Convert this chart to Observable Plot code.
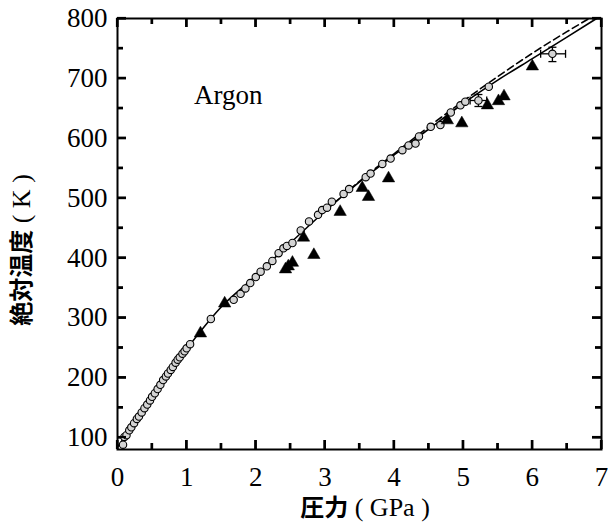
<!DOCTYPE html>
<html>
<head>
<meta charset="utf-8">
<script src="https://cdn.jsdelivr.net/npm/d3@7"></script>
<script src="https://cdn.jsdelivr.net/npm/@observablehq/plot@0.6"></script>
<style>
  html, body { margin: 0; padding: 0; background: #fff; }
</style>
</head>
<body>
<div id="chart"></div>
<script>
// ---- Data ----
// Fitted melting curve (solid)
const solidP = [0, 0.2, 0.4, 0.6, 0.8, 1.0, 1.5, 2.0, 2.5, 3.0, 3.5, 4.0, 4.5, 5.0, 5.5, 6.0, 6.5, 7.0];
const solidT = [84, 117, 150, 185, 218, 248, 318, 370, 425, 478, 527, 572, 615, 658, 697, 733, 769, 805];
// Alternative fit (dashed)
const dashP = [3.0, 3.5, 4.0, 4.5, 5.0, 5.5, 6.0, 6.5, 7.0];
const dashT = [478, 528, 574, 619, 662, 703, 742, 778, 812];
// Open circles (measurements)
const circP = [0.08, 0.10, 0.13, 0.17, 0.20, 0.24, 0.28, 0.31, 0.35, 0.39, 0.43, 0.47, 0.50, 0.54, 0.58, 0.62, 0.66, 0.70, 0.73, 0.77, 0.80, 0.84, 0.87, 0.90, 0.94, 0.97, 1.00, 1.05,
  1.35, 1.68, 1.78, 1.85, 1.92, 2.00, 2.07, 2.16, 2.24, 2.33, 2.40, 2.45, 2.53, 2.65, 2.77, 2.90, 2.96, 3.03, 3.10, 3.27, 3.35, 3.59, 3.66, 3.83, 3.95, 4.12, 4.21, 4.31, 4.36, 4.53, 4.67, 4.82, 4.96, 5.03, 5.22, 5.37, 6.29];
const circT = [88, 101, 104, 112, 117, 124, 131, 135, 142, 149, 155, 162, 168, 174, 181, 188, 196, 202, 207, 213, 218, 225, 230, 234, 240, 244, 249, 256,
  298, 330, 340, 349, 358, 368, 377, 386, 395, 408, 416, 420, 425, 446, 461, 472, 480, 484, 494, 507, 515, 535, 541, 557, 566, 580, 588, 591, 603, 619, 622, 643, 655, 661, 663, 686, 741];
// Filled triangles (other measurements)
const triP = [1.20, 1.55, 2.43, 2.47, 2.53, 2.69, 2.84, 3.22, 3.54, 3.63, 3.92, 4.77, 4.98, 5.35, 5.51, 5.59, 6.00];
const triT = [274, 324, 381, 386, 392, 434, 405, 477, 517, 502, 533, 630, 625, 655, 662, 670, 720];
// Error bars
const errP = [5.22, 6.29];
const errT = [663, 741];
const errPlo = [5.10, 6.12];
const errPhi = [5.34, 6.48];
const errTlo = [653, 728];
const errThi = [673, 752];
// Ticks
const xMajor = [0, 1, 2, 3, 4, 5, 6, 7];
const xMinor = [0.5, 1.5, 2.5, 3.5, 4.5, 5.5, 6.5];
const yMajor = [100, 200, 300, 400, 500, 600, 700, 800];
const yMinor = [150, 250, 350, 450, 550, 650, 750];
const seriesLabel = "Argon";
const xTitleCJK = "圧力";
const xTitleUnit = " ( GPa )";
const yTitleCJK = "絶対温度";
const yTitleUnit = " ( K )";

// ---- Tables built from arrays ----
const solid = solidP.map((p, i) => ({P: p, T: solidT[i]}));
const dashed = dashP.map((p, i) => ({P: p, T: dashT[i]}));
const circles = circP.map((p, i) => ({P: p, T: circT[i]}));
const tris = triP.map((p, i) => ({P: p, T: triT[i]}));
const errs = errP.map((p, i) => ({P: p, T: errT[i], Plo: errPlo[i], Phi: errPhi[i], Tlo: errTlo[i], Thi: errThi[i]}));

// custom line-segment symbols for error-bar caps
const seg = (dx1, dy1, dx2, dy2) => ({draw(ctx) { ctx.moveTo(dx1, dy1); ctx.lineTo(dx2, dy2); }});
const vCap = seg(0, -4, 0, 4);
const hCap = seg(-4, 0, 4, 0);

const serifFont = "'Liberation Serif', 'Times New Roman', serif";
const tickFs = 27;
const MARG = {left: 117, right: 7, top: 18, bottom: 75};
const WIDTH = 608, HEIGHT = 524;
const innerHt = HEIGHT - MARG.top - MARG.bottom;
const innerWd = WIDTH - MARG.left - MARG.right;

const chartSvg = Plot.plot({
  width: WIDTH,
  height: HEIGHT,
  marginLeft: MARG.left,
  marginRight: MARG.right,
  marginTop: MARG.top,
  marginBottom: MARG.bottom,
  style: {fontFamily: serifFont},
  x: {domain: [0, 7], axis: null},
  y: {domain: [80, 800], axis: null},
  marks: [
    Plot.frame({stroke: "black", strokeWidth: 2}),
    // inward ticks (rules shortened with insets)
    Plot.ruleX(xMajor, {x: d => d, insetTop: innerHt - 9, stroke: "black", strokeWidth: 2.2}),
    Plot.ruleX(xMinor, {x: d => d, insetTop: innerHt - 6, stroke: "black", strokeWidth: 2.2}),
    Plot.ruleX(xMajor, {x: d => d, insetBottom: innerHt - 9, stroke: "black", strokeWidth: 2.2}),
    Plot.ruleX(xMinor, {x: d => d, insetBottom: innerHt - 6, stroke: "black", strokeWidth: 2.2}),
    Plot.ruleY(yMajor, {y: d => d, insetRight: innerWd - 9, stroke: "black", strokeWidth: 2.2}),
    Plot.ruleY(yMinor, {y: d => d, insetRight: innerWd - 6, stroke: "black", strokeWidth: 2.2}),
    Plot.ruleY(yMajor, {y: d => d, insetLeft: innerWd - 9, stroke: "black", strokeWidth: 2.2}),
    Plot.ruleY(yMinor, {y: d => d, insetLeft: innerWd - 6, stroke: "black", strokeWidth: 2.2}),
    // lines
    Plot.line(solid, {x: "P", y: "T", stroke: "black", strokeWidth: 1.6, curve: "monotone-x", clip: true}),
    Plot.line(dashed, {x: "P", y: "T", stroke: "black", strokeWidth: 1.6, strokeDasharray: "7,4", curve: "monotone-x", clip: true}),
    // error bars
    Plot.link(errs, {x1: "Plo", x2: "Phi", y1: "T", y2: "T", stroke: "black", strokeWidth: 1.3}),
    Plot.link(errs, {x1: "P", x2: "P", y1: "Tlo", y2: "Thi", stroke: "black", strokeWidth: 1.3}),
    Plot.dot(errs, {x: "Plo", y: "T", symbol: vCap, stroke: "black", strokeWidth: 1.3, fill: "none"}),
    Plot.dot(errs, {x: "Phi", y: "T", symbol: vCap, stroke: "black", strokeWidth: 1.3, fill: "none"}),
    Plot.dot(errs, {x: "P", y: "Tlo", symbol: hCap, stroke: "black", strokeWidth: 1.3, fill: "none"}),
    Plot.dot(errs, {x: "P", y: "Thi", symbol: hCap, stroke: "black", strokeWidth: 1.3, fill: "none"}),
    // markers
    Plot.dot(circles, {x: "P", y: "T", r: 3.7, stroke: "black", strokeWidth: 1.1, fill: "#d4d4d4"}),
    Plot.dot(tris, {x: "P", y: "T", symbol: "triangle", r: 4.6, fill: "black", stroke: "black", strokeWidth: 0.5}),
    // tick labels
    Plot.axisX(xMajor, {anchor: "bottom", tickSize: 0, tickPadding: 17, fontSize: tickFs, fill: "black", label: null, tickFormat: d => String(d)}),
    Plot.axisY(yMajor, {anchor: "left", tickSize: 0, tickPadding: 10, fontSize: tickFs, fill: "black", label: null, tickFormat: d => String(d)}),
    // series label
    Plot.text([seriesLabel], {x: 1.6, y: 672, text: d => d, fontSize: 27, fontFamily: serifFont, fill: "black"})
  ]
});

document.getElementById("chart").appendChild(chartSvg);
const svgSel = d3.select(chartSvg);

// backup: same inward ticks placed through Plot's own scales
try {
  const sx = chartSvg.scale("x"), sy = chartSvg.scale("y");
  const mapX = typeof sx.apply === "function" ? (v => sx.apply(v)) : d3.scaleLinear().domain(sx.domain).range(sx.range);
  const mapY = typeof sy.apply === "function" ? (v => sy.apply(v)) : d3.scaleLinear().domain(sy.domain).range(sy.range);
  const edgeL = MARG.left, edgeR = WIDTH - MARG.right, edgeT = MARG.top, edgeB = HEIGHT - MARG.bottom;
  const tg = svgSel.append("g");
  const addLine = (x1, y1, x2, y2) => tg.append("line")
    .attr("x1", x1).attr("y1", y1).attr("x2", x2).attr("y2", y2)
    .style("stroke", "#000").style("stroke-width", "2.2px");
  for (const [vals, len] of [[xMajor, 9], [xMinor, 6]]) {
    for (const v of vals) {
      const px = mapX(v);
      addLine(px, edgeB, px, edgeB - len);
      addLine(px, edgeT, px, edgeT + len);
    }
  }
  for (const [vals, len] of [[yMajor, 9], [yMinor, 6]]) {
    for (const v of vals) {
      const py = mapY(v);
      addLine(edgeL, py, edgeL + len, py);
      addLine(edgeR, py, edgeR - len, py);
    }
  }
} catch (e) { console.error(e); }

// axis titles (mixed CJK + serif)
const cjkFont = "'Noto Sans CJK JP', 'Noto Sans CJK SC', sans-serif";
const xTitle = svgSel.append("text")
  .attr("x", 365).attr("y", 516)
  .attr("text-anchor", "middle")
  .attr("fill", "black");
xTitle.append("tspan").attr("font-family", cjkFont).attr("font-weight", "bold").attr("font-size", 24).text(xTitleCJK);
xTitle.append("tspan").attr("font-family", serifFont).attr("font-size", 26).text(xTitleUnit);

const yTitle = svgSel.append("text")
  .attr("transform", "translate(30,250) rotate(-90)")
  .attr("text-anchor", "middle")
  .attr("fill", "black");
yTitle.append("tspan").attr("font-family", cjkFont).attr("font-weight", "bold").attr("font-size", 24).text(yTitleCJK);
yTitle.append("tspan").attr("font-family", serifFont).attr("font-size", 26).text(yTitleUnit);
</script>
</body>
</html>
